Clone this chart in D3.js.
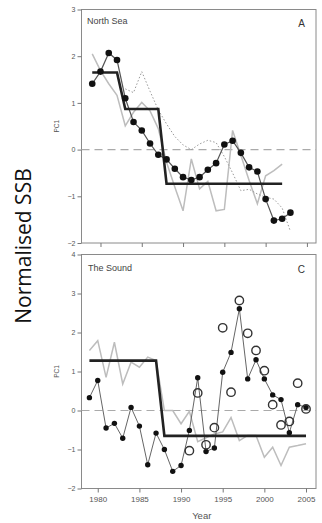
<!DOCTYPE html>
<html>
<head>
<meta charset="utf-8">
<script src="https://cdn.jsdelivr.net/npm/d3@7"></script>
<style>
  html, body { margin: 0; padding: 0; background: #fff; }
  svg { display: block; }
  text { font-family: "Liberation Sans", Arial, sans-serif; }
</style>
</head>
<body>
<div id="chart"></div>
<script>
// ---------- Data: North Sea (panel A) ----------
const nsYears = [1979, 1980, 1981, 1982, 1983, 1984, 1985, 1986, 1987, 1988, 1989, 1990, 1991,
  1992, 1993, 1994, 1995, 1996, 1997, 1998, 1999, 2000, 2001, 2002, 2003];
const nsPC1 = [1.41, 1.67, 2.07, 1.92, 1.10, 0.59, 0.41, 0.13, -0.11, -0.21, -0.41, -0.59, -0.65,
  -0.59, -0.43, -0.29, 0.11, 0.19, -0.07, -0.38, -0.47, -1.06, -1.52, -1.48, -1.35];

const nsGreyYears = [1979, 1980, 1981, 1982, 1983, 1984, 1985, 1986, 1987, 1988, 1989, 1990,
  1991, 1992, 1993, 1994, 1995, 1996, 1997, 1998, 1999, 2000, 2001, 2002];
const nsGrey = [2.05, 1.69, 1.41, 1.16, 0.51, 0.80, 1.01, 0.83, 0.45, -0.27, -0.80, -1.31,
  -0.20, -0.84, -0.68, -1.31, -1.28, 0.41, -0.12, -0.66, -1.16, -0.56, -0.45, -0.31];

const nsDotYears = [1983, 1984, 1985, 1986, 1987, 1988, 1989, 1990, 1991, 1992, 1993, 1994,
  1995, 1996, 1997, 1998, 1999, 2000, 2001, 2002, 2003];
const nsDotted = [1.30, 1.22, 1.67, 1.25, 0.85, 0.55, 0.28, 0.10, 0.00, 0.12, 0.20, 0.15,
  -0.15, -0.50, -0.88, -0.85, -0.95, -1.02, -1.06, -1.25, -1.75];

const nsStepYears = [1979, 1982, 1983, 1987, 1988, 2002];
const nsStep = [1.65, 1.65, 0.87, 0.87, -0.73, -0.73];

// ---------- Data: The Sound (panel C) ----------
const sdYears = [1979, 1980, 1981, 1982, 1983, 1984, 1985, 1986, 1987, 1988, 1989, 1990, 1991,
  1992, 1993, 1994, 1995, 1996, 1997, 1998, 1999, 2000, 2001, 2002, 2003, 2004, 2005];
const sdPC1 = [0.33, 0.77, -0.45, -0.33, -0.71, 0.08, -0.40, -1.39, -0.58, -1.00, -1.56, -1.41, -0.51,
  0.84, -1.05, -0.96, 0.98, 1.49, 2.61, 0.81, 1.30, 0.81, 0.40, 0.28, -0.57, 0.15, 0.08];
const sdGrey = [1.54, 1.79, 0.85, 1.75, 0.68, 1.24, 1.11, 1.37, 1.28, 0.00, 0.00, -0.34, -0.02,
  -0.80, -0.70, -0.60, -0.55, -0.18, -0.77, -0.64, -0.64, -1.20, -0.94, -1.41, -0.94, -0.90, -0.85];

const sdOpenYears = [1991, 1992, 1993, 1994, 1995, 1996, 1997, 1998, 1999, 2000, 2001, 2002, 2003, 2004, 2005];
const sdOpen = [-1.03, 0.45, -0.88, -0.44, 2.12, 0.47, 2.82, 1.98, 1.54, 1.02, 0.15, -0.37, -0.28, 0.70, 0.04];

const sdStepYears = [1979, 1987, 1988, 2005];
const sdStep = [1.28, 1.28, -0.65, -0.65];

// ---------- Ticks ----------
const xTicks = [1980, 1985, 1990, 1995, 2000, 2005];
const nsYTicks = [-2, -1, 0, 1, 2, 3];
const sdYTicks = [-2, -1, 0, 1, 2, 3, 4];

const W = 322, H = 523;
const svg = d3.select("#chart").append("svg")
  .attr("width", W).attr("height", H);

const zip = (xs, ys) => xs.map((x, i) => ({ x, y: ys[i] }));

function drawPanel(cfg) {
  const { top, bottom, xDomain, yDomain, yTicks, showXLabels } = cfg;
  const left = 81.5, right = 316;

  const x = d3.scaleLinear().domain(xDomain).range([left, right]);
  const y = d3.scaleLinear().domain(yDomain).range([bottom, top]);
  const g = svg.append("g");

  // frame
  g.append("rect")
    .attr("x", left).attr("y", top)
    .attr("width", right - left).attr("height", bottom - top)
    .attr("fill", "#fff").attr("stroke", "#8a8a8a").attr("stroke-width", 1);

  // axes
  const yAxis = g.append("g")
    .attr("transform", `translate(${left},0)`)
    .call(d3.axisLeft(y).tickValues(yTicks).tickSize(4).tickPadding(2).tickFormat(d3.format("d")));
  const xAxis = g.append("g")
    .attr("transform", `translate(0,${bottom})`)
    .call(d3.axisBottom(x).tickValues(xTicks).tickSize(4).tickPadding(4)
      .tickFormat(showXLabels ? d3.format("d") : ""));
  [yAxis, xAxis].forEach(a => {
    a.select(".domain").remove();
    a.selectAll("line").attr("stroke", "#777");
    a.selectAll("text").attr("fill", "#555")
      .style("font-size", "7px");
  });
  xAxis.selectAll("text").style("font-size", "8px");

  // zero reference
  g.append("line")
    .attr("x1", left).attr("x2", right)
    .attr("y1", y(0)).attr("y2", y(0))
    .attr("stroke", "#aaa").attr("stroke-width", 1.2)
    .attr("stroke-dasharray", "8,5");

  const line = d3.line().x(d => x(d.x)).y(d => y(d.y));

  // y title
  g.append("text")
    .attr("transform", `translate(59,${(top + bottom) / 2}) rotate(-90)`)
    .attr("text-anchor", "middle")
    .attr("fill", "#555")
    .style("font-size", "6.5px")
    .text("PC1");

  return { g, x, y, line, left, right, top, bottom };
}

// ---------- Panel A: North Sea ----------
const pA = drawPanel({
  top: 9.5, bottom: 243,
  xDomain: [1977.7, 2006.1], yDomain: [-2, 3],
  yTicks: nsYTicks, showXLabels: false
});

pA.g.append("path").datum(zip(nsGreyYears, nsGrey))
  .attr("d", pA.line).attr("fill", "none")
  .attr("stroke", "#bdbdbd").attr("stroke-width", 1.5);

pA.g.append("path").datum(zip(nsDotYears, nsDotted))
  .attr("d", pA.line).attr("fill", "none")
  .attr("stroke", "#9a9a9a").attr("stroke-width", 1)
  .attr("stroke-dasharray", "1.5,2");

pA.g.append("path").datum(zip(nsYears, nsPC1))
  .attr("d", pA.line).attr("fill", "none")
  .attr("stroke", "#555").attr("stroke-width", 1.2);

pA.g.append("path").datum(zip(nsStepYears, nsStep))
  .attr("d", pA.line).attr("fill", "none")
  .attr("stroke", "#222").attr("stroke-width", 2.6);

pA.g.selectAll("circle.pc").data(zip(nsYears, nsPC1)).join("circle")
  .attr("class", "pc")
  .attr("cx", d => pA.x(d.x)).attr("cy", d => pA.y(d.y))
  .attr("r", 3.3).attr("fill", "#111");

pA.g.append("text").attr("x", 87).attr("y", 24)
  .attr("fill", "#444").style("font-size", "9px").text("North Sea");
pA.g.append("text").attr("x", 305).attr("y", 27).attr("text-anchor", "end")
  .attr("fill", "#333").style("font-size", "10px").text("A");

// ---------- Panel C: The Sound ----------
const pC = drawPanel({
  top: 254.5, bottom: 488.5,
  xDomain: [1978.05, 2006.2], yDomain: [-2, 4],
  yTicks: sdYTicks, showXLabels: true
});

pC.g.append("path").datum(zip(sdYears, sdGrey))
  .attr("d", pC.line).attr("fill", "none")
  .attr("stroke", "#bdbdbd").attr("stroke-width", 1.5);

pC.g.append("path").datum(zip(sdYears, sdPC1))
  .attr("d", pC.line).attr("fill", "none")
  .attr("stroke", "#666").attr("stroke-width", 1);

pC.g.append("path").datum(zip(sdStepYears, sdStep))
  .attr("d", pC.line).attr("fill", "none")
  .attr("stroke", "#222").attr("stroke-width", 2.6);

pC.g.selectAll("circle.pc").data(zip(sdYears, sdPC1)).join("circle")
  .attr("class", "pc")
  .attr("cx", d => pC.x(d.x)).attr("cy", d => pC.y(d.y))
  .attr("r", 2.7).attr("fill", "#111");

pC.g.selectAll("circle.open").data(zip(sdOpenYears, sdOpen)).join("circle")
  .attr("class", "open")
  .attr("cx", d => pC.x(d.x)).attr("cy", d => pC.y(d.y))
  .attr("r", 4.2).attr("fill", "none")
  .attr("stroke", "#333").attr("stroke-width", 1.4);

pC.g.append("text").attr("x", 88).attr("y", 271)
  .attr("fill", "#444").style("font-size", "9px").text("The Sound");
pC.g.append("text").attr("x", 305).attr("y", 273).attr("text-anchor", "end")
  .attr("fill", "#333").style("font-size", "10px").text("C");

svg.append("text")
  .attr("x", (pC.left + pC.right) / 2 + 3).attr("y", 519)
  .attr("text-anchor", "middle").attr("fill", "#555")
  .style("font-size", "9.5px").text("Year");

// big side title
svg.append("text")
  .attr("transform", "translate(31,246) rotate(-90)")
  .attr("text-anchor", "middle")
  .attr("fill", "#111")
  .style("font-family", "'Open Sans', 'Noto Sans', sans-serif")
  .style("font-size", "21px")
  .text("Normalised SSB");
</script>
</body>
</html>
